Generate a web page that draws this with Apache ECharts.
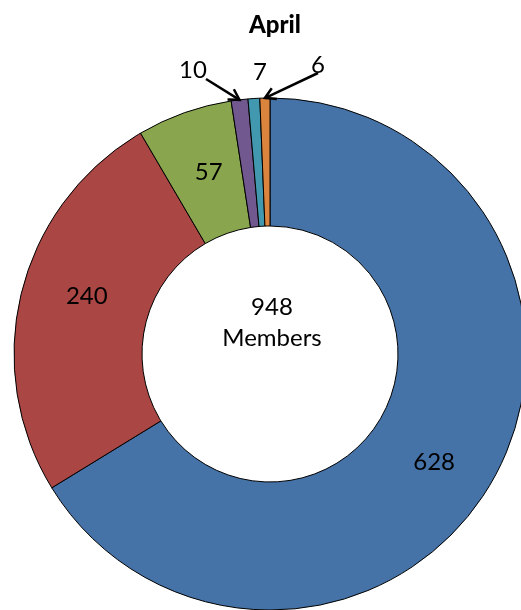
<!DOCTYPE html>
<html>
<head>
<meta charset="utf-8">
<script src="https://cdn.jsdelivr.net/npm/echarts@6/dist/echarts.min.js"></script>
<style>html,body{margin:0;padding:0;background:#fff}#c{width:521px;height:610px}</style>
</head>
<body>
<div id="c"></div>
<script>
const titleText = 'April';
const categories = ['Group 1', 'Group 2', 'Group 3', 'Group 4', 'Group 5', 'Group 6'];
const values = [628, 240, 57, 10, 7, 6];
const colors = ['#4572A7', '#AA4643', '#89A54E', '#71588F', '#4198AF', '#DB843D'];
const centerUnit = 'Members';

const FONT = 'Lato';
const total = values.reduce((a, b) => a + b, 0);

// label placement (style only)
const insideShift = { 0: [-6, 13], 1: [6, -10], 2: [4, 2] };
const outsidePos = { 3: [193, 70], 4: [260, 72], 5: [318, 65] };
const arrowTail = { 3: [13, 9], 5: [0, 8] };

function buildOption(graphics) {
  return {
    backgroundColor: '#fff',
    animation: false,
    title: {
      text: titleText,
      left: 244, top: 8,
      textStyle: { fontFamily: FONT, fontWeight: 900, fontSize: 24, color: '#000' }
    },
    graphic: graphics || [],
    series: [{
      type: 'pie',
      center: [270, 354],
      radius: [128, 256],
      startAngle: 90,
      clockwise: true,
      avoidLabelOverlap: false,
      itemStyle: { borderColor: '#000', borderWidth: 1 },
      emphasis: { disabled: true },
      label: {
        show: true,
        position: 'inside',
        formatter: '{c}',
        fontFamily: FONT, fontSize: 24, color: '#000'
      },
      labelLine: { show: false },
      labelLayout: function (p) {
        const i = p.dataIndex;
        if (outsidePos[i]) {
          return { x: outsidePos[i][0], y: outsidePos[i][1], align: 'center', verticalAlign: 'middle' };
        }
        if (insideShift[i]) return { dx: insideShift[i][0], dy: insideShift[i][1] };
        return {};
      },
      data: values.map((v, i) => ({
        name: categories[i], value: v,
        itemStyle: { color: colors[i] }
      }))
    }]
  };
}

// measure the pie layout with a temporary chart
const tmpDiv = document.createElement('div');
tmpDiv.style.cssText = 'width:521px;height:610px;position:absolute;left:-9999px;top:0';
document.body.appendChild(tmpDiv);
const tmp = echarts.init(tmpDiv, null, { renderer: 'canvas' });
tmp.setOption(buildOption());
const data = tmp.getModel().getSeriesByIndex(0).getData();
const layouts = values.map((v, i) => data.getItemLayout(i));
tmp.dispose();
tmpDiv.remove();

const graphics = [];
Object.keys(arrowTail).forEach(k => {
  const i = +k;
  const lay = layouts[i];
  const mid = (lay.startAngle + lay.endAngle) / 2;
  const tip = [lay.cx + lay.r * Math.cos(mid), lay.cy + lay.r * Math.sin(mid)];
  const tail = [outsidePos[i][0] + arrowTail[k][0], outsidePos[i][1] + arrowTail[k][1]];
  const ang = Math.atan2(tip[1] - tail[1], tip[0] - tail[0]);
  const hl = 12, ha = Math.PI / 6;
  const h1 = [tip[0] - hl * Math.cos(ang - ha), tip[1] - hl * Math.sin(ang - ha)];
  const h2 = [tip[0] - hl * Math.cos(ang + ha), tip[1] - hl * Math.sin(ang + ha)];
  graphics.push({ type: 'polyline', shape: { points: [tail, tip] }, style: { stroke: '#000', lineWidth: 2.5, fill: null }, z: 100 });
  graphics.push({ type: 'polyline', shape: { points: [h1, tip, h2] }, style: { stroke: '#000', lineWidth: 2.5, fill: null }, z: 100 });
});
const lay0 = layouts[0];
graphics.push({
  type: 'text', z: 100,
  style: {
    x: lay0.cx + 2, y: lay0.cy - 31,
    text: total + '\n' + centerUnit,
    fontFamily: FONT, fontSize: 24, lineHeight: 31,
    fill: '#000', align: 'center', verticalAlign: 'middle'
  }
});

const chart = echarts.init(document.getElementById('c'), null, { renderer: 'canvas' });
chart.setOption(buildOption(graphics));
</script>
</body>
</html>
